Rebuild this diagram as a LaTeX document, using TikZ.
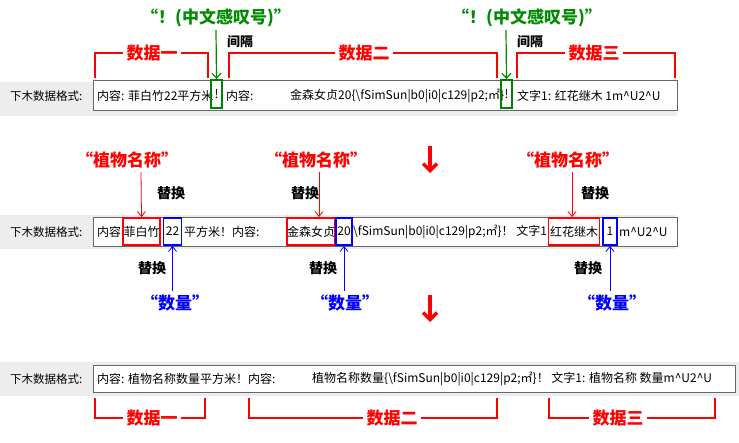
\documentclass[tikz,border=0pt]{standalone}
\usepackage{fontspec}
\setmainfont{Noto Sans CJK SC}
\usetikzlibrary{positioning, arrows.meta}

\begin{document}
\begin{tikzpicture}[
    x=1pt, y=-1pt,
    strip/.style={fill=black!7, draw=none},
    textbox/.style={draw=black!60, fill=white, line width=0.6pt},
    txt/.style={anchor=west, inner sep=0pt, font=\fontsize{12}{13}\selectfont},
    lbl/.style={anchor=west, inner sep=0pt, font=\fontsize{11.5}{13}\selectfont},
    namebox/.style={draw=red, line width=1.8pt, minimum height=27pt, inner sep=0pt, font=\fontsize{12}{13}\selectfont},
    numbox/.style={draw=blue, line width=1.8pt, minimum height=27pt, inner sep=0pt, font=\fontsize{12}{13}\selectfont},
    gapbox/.style={draw=green!50!black, line width=1.8pt, minimum width=11pt, minimum height=28pt, inner sep=0pt, font=\fontsize{12}{13}\selectfont},
    bracket/.style={red, line width=2.6pt},
    datalabel/.style={red, font=\bfseries\fontsize{17}{18}\selectfont},
    redtitle/.style={red, font=\bfseries\fontsize{17}{18}\selectfont},
    bluetitle/.style={blue, font=\bfseries\fontsize{17}{18}\selectfont},
    greentitle/.style={green!55!black, font=\bfseries\fontsize{17}{18}\selectfont},
    swap/.style={font=\bfseries\fontsize{14}{15}\selectfont},
    bigarrow/.style={red, line width=3.5pt, -{Straight Barb[length=7pt,width=14pt]}}
]
\useasboundingbox (0,0) rectangle (739,443);

% Row 1: original data
\fill[strip] (0,82) rectangle (677,116);
\draw[textbox] (93,80) rectangle (677,110);
\node[lbl] (f1) at (10,96) {下木数据格式:};
\begin{scope}
\clip (93,80) rectangle (677,110);
\node[txt] (a1) at (97,96) {内容: 菲白竹22平方米};
\node[txt] (a2) at (226,96) {内容:};
\node[txt] (a3) at (290,96) {金森女贞20\{\textbackslash fSimSun|b0|i0|c129|p2;㎡\}};
\node[txt] (a4) at (517,96) {文字1: 红花继木 1m\textasciicircum U2\textasciicircum U};
\end{scope}
\node[gapbox] (g1) at (216.5,94) {!};
\node[gapbox] (g2) at (506.5,94) {!};
\node[greentitle] (t1) at (216,18) {“！(中文感叹号)”};
\node[greentitle] (t2) at (527,18) {“！(中文感叹号)”};
\node[font=\bfseries\fontsize{13}{14}\selectfont] (s1) at (240,42) {间隔};
\node[font=\bfseries\fontsize{13}{14}\selectfont] (s2) at (530,42) {间隔};
\coordinate (c1) at (216,30);
\coordinate (c2) at (506,30);
\draw[green!55!black, line width=1.2pt, -{Straight Barb[length=5pt,width=9pt]}] (c1) -- (g1.north);
\draw[green!55!black, line width=1.2pt, -{Straight Barb[length=5pt,width=9pt]}] (c2) -- (g2.north);

% brackets above row 1
\node[datalabel] (d1) at (152,53) {数据一};
\node[datalabel] (d2) at (364,53) {数据二};
\node[datalabel] (d3) at (594,53) {数据三};
\draw[bracket] (95,78) |- (d1.west);
\draw[bracket] (208,78) |- (d1.east);
\draw[bracket] (229,78) |- (d2.west);
\draw[bracket] (497,78) |- (d2.east);
\draw[bracket] (517,78) |- (d3.west);
\draw[bracket] (675,78) |- (d3.east);

\coordinate (b1) at (430,146);
\coordinate (b2) at (430,173);
\draw[bigarrow] (b1) -- (b2);

% Row 2: replaced parts
\fill[strip] (0,215) rectangle (677,249);
\draw[textbox] (93,217) rectangle (677,246);
\node[lbl] (f2) at (10,232) {下木数据格式:};
\begin{scope}
\clip (93,217) rectangle (677,246);
\node[txt] (r1) at (97,232) {内容:};
\node[txt] (r2) at (184,232) {平方米！内容:};
\node[txt] (r3) at (353,232) {\textbackslash fSimSun|b0|i0|c129|p2;㎡\}！ 文字1};
\node[txt] (r4) at (619,232) {m\textasciicircum U2\textasciicircum U};
\end{scope}
\node[namebox, minimum width=37pt] (n1) at (141.5,231.5) {菲白竹};
\node[namebox, minimum width=46pt] (n2) at (311,231.5) {金森女贞};
\node[namebox, minimum width=51pt] (n3) at (574,231.5) {红花继木};
\node[numbox, minimum width=18pt] (m1) at (172.5,231.5) {22};
\node[numbox, minimum width=16pt] (m2) at (344,231.5) {20};
\node[numbox, minimum width=14pt] (m3) at (610,231.5) {1};
\node[redtitle] (p1) at (127,160) {“植物名称”};
\node[redtitle] (p2) at (316,160) {“植物名称”};
\node[redtitle] (p3) at (568,160) {“植物名称”};
\node[swap] (w1) at (171,193) {替换};
\node[swap] (w2) at (305,193) {替换};
\node[swap] (w3) at (595,193) {替换};
\draw[red, line width=0.8pt, -{Straight Barb[length=5pt,width=8pt]}] (141,172) -- (n1.north);
\draw[red, line width=0.8pt, -{Straight Barb[length=5pt,width=8pt]}] (319,172) -- (n2.north west -| 319,0);
\draw[red, line width=0.8pt, -{Straight Barb[length=5pt,width=8pt]}] (572,172) -- (n3.north west -| 572,0);
\node[bluetitle] (q1) at (175,303) {“数量”};
\node[bluetitle] (q2) at (345,303) {“数量”};
\node[bluetitle] (q3) at (612,303) {“数量”};
\node[swap] (v1) at (152,268) {替换};
\node[swap] (v2) at (323,268) {替换};
\node[swap] (v3) at (588,268) {替换};
\draw[blue, line width=0.8pt, -{Straight Barb[length=5pt,width=8pt]}] (q1.north -| m1) -- (m1.south);
\draw[blue, line width=0.8pt, -{Straight Barb[length=5pt,width=8pt]}] (q2.north -| m2) -- (m2.south);
\draw[blue, line width=0.8pt, -{Straight Barb[length=5pt,width=8pt]}] (q3.north -| m3) -- (m3.south);

\coordinate (b3) at (430,295);
\coordinate (b4) at (430,322);
\draw[bigarrow] (b3) -- (b4);

% Row 3: template result
\fill[strip] (0,362) rectangle (739,396);
\draw[textbox] (93,365) rectangle (735,392);
\node[lbl] (f3) at (10,379) {下木数据格式:};
\node[txt] (e1) at (97,379) {内容: 植物名称数量平方米！内容:};
\node[txt] (e2) at (312,379) {植物名称数量\{\textbackslash fSimSun|b0|i0|c129|p2;㎡\}！ 文字1: 植物名称 数量m\textasciicircum U2\textasciicircum U};

% brackets below row 3
\node[datalabel] (h1) at (152,418) {数据一};
\node[datalabel] (h2) at (392,418) {数据二};
\node[datalabel] (h3) at (618,418) {数据三};
\draw[bracket] (95,398) |- (h1.west);
\draw[bracket] (205,398) |- (h1.east);
\draw[bracket] (249,398) |- (h2.west);
\draw[bracket] (497,398) |- (h2.east);
\draw[bracket] (549,398) |- (h3.west);
\draw[bracket] (715,398) |- (h3.east);
\end{tikzpicture}
\end{document}
